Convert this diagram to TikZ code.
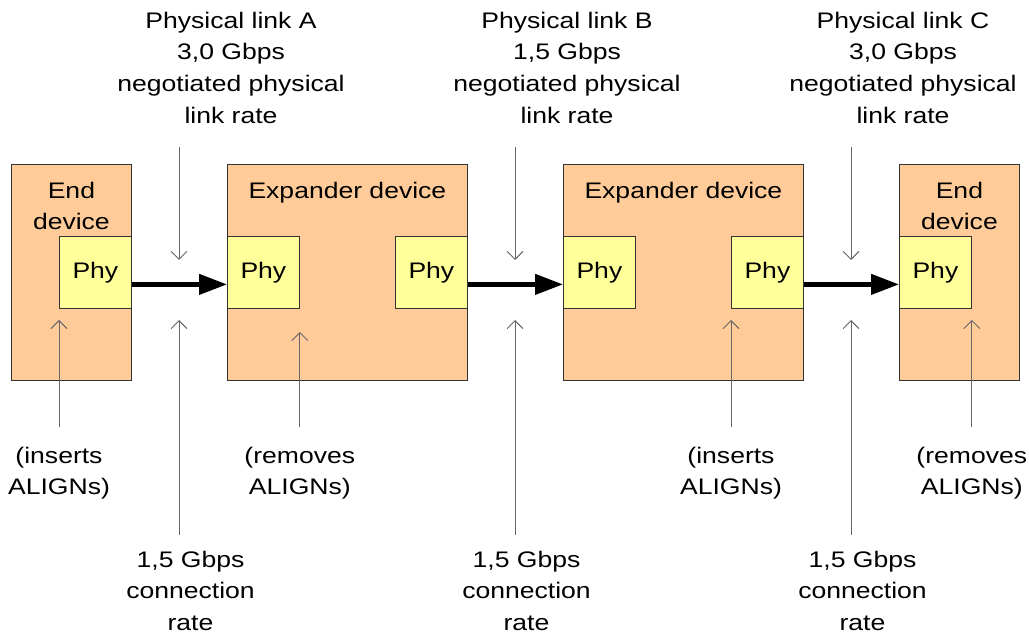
\documentclass[tikz,border=0pt]{standalone}
\usepackage{fontspec}
\setmainfont{Liberation Sans}[FakeStretch=1.18]
\usetikzlibrary{arrows.meta}
\definecolor{devicefill}{HTML}{FFCC99}
\definecolor{phyfill}{HTML}{FFFF99}
\definecolor{notegray}{HTML}{666666}

\begin{document}
\begin{tikzpicture}[x=1pt,y=-1pt,
    txt/.style={font=\fontsize{22.5}{31.7}\selectfont, align=center, inner sep=0pt, anchor=north},
    device/.style={draw=black!80, line width=0.8pt, fill=devicefill, anchor=north west,
        inner sep=0pt, minimum height=216pt},
    phy/.style={draw=black!80, line width=0.8pt, fill=phyfill, minimum width=72pt,
        minimum height=72pt, inner sep=0pt, font=\fontsize{22.5}{27}\selectfont},
    link/.style={line width=4.3pt, -{Triangle[length=28pt,width=20pt]}},
    note/.style={draw=notegray, line width=0.9pt, -{Straight Barb[length=8pt,width=16pt]}}]
    \useasboundingbox (0,0) rectangle (1029,636);

    % devices
    \node[device, minimum width=120pt] (endA) at (11,164) {};
    \node[device, minimum width=240pt] (expA) at (227,164) {};
    \node[device, minimum width=240pt] (expB) at (563,164) {};
    \node[device, minimum width=120pt] (endB) at (899,164) {};
    \node[txt] (endAname) at ([yshift=-17.6pt]endA.north) {End\\device};
    \node[txt] (expAname) at ([yshift=-17.6pt]expA.north) {Expander device};
    \node[txt] (expBname) at ([yshift=-17.6pt]expB.north) {Expander device};
    \node[txt] (endBname) at ([yshift=-17.6pt]endB.north) {End\\device};

    % phys
    \node[phy, anchor=east] (phyA) at (endA.east) {Phy};
    \node[phy, anchor=west] (phyB) at (expA.west) {Phy};
    \node[phy, anchor=east] (phyC) at (expA.east) {Phy};
    \node[phy, anchor=west] (phyD) at (expB.west) {Phy};
    \node[phy, anchor=east] (phyE) at (expB.east) {Phy};
    \node[phy, anchor=west] (phyF) at (endB.west) {Phy};

    % links
    \draw[link] ([yshift=-12pt]phyA.east) -- ([yshift=-12pt]phyB.west);
    \draw[link] ([yshift=-12pt]phyC.east) -- ([yshift=-12pt]phyD.west);
    \draw[link] ([yshift=-12pt]phyE.east) -- ([yshift=-12pt]phyF.west);

    % link rates
    \node[txt] (rateA) at (231,11.6) {Physical link A\\3,0 Gbps\\negotiated physical\\link rate};
    \node[txt] (rateB) at (567,11.6) {Physical link B\\1,5 Gbps\\negotiated physical\\link rate};
    \node[txt] (rateC) at (903,11.6) {Physical link C\\3,0 Gbps\\negotiated physical\\link rate};
    \coordinate (topA) at (179,147);
    \coordinate (topB) at (515,147);
    \coordinate (topC) at (851,147);
    \coordinate (downA) at (179,260);
    \coordinate (downB) at (515,260);
    \coordinate (downC) at (851,260);
    \draw[note] (topA) -- (downA);
    \draw[note] (topB) -- (downB);
    \draw[note] (topC) -- (downC);

    % connection rates
    \node[txt] (connA) at (190.5,550.6) {1,5 Gbps\\connection\\rate};
    \node[txt] (connB) at (526.5,550.6) {1,5 Gbps\\connection\\rate};
    \node[txt] (connC) at (862.5,550.6) {1,5 Gbps\\connection\\rate};
    \coordinate (botA) at (179,535);
    \coordinate (botB) at (515,535);
    \coordinate (botC) at (851,535);
    \coordinate (upA) at (179,320);
    \coordinate (upB) at (515,320);
    \coordinate (upC) at (851,320);
    \draw[note] (botA) -- (upA);
    \draw[note] (botB) -- (upB);
    \draw[note] (botC) -- (upC);

    % ALIGN notes
    \node[txt] (insA) at (phyA.west |- 0,446.6) {(inserts\\ALIGNs)};
    \node[txt] (remA) at (phyB.east |- 0,446.6) {(removes\\ALIGNs)};
    \node[txt] (insB) at (phyE.west |- 0,446.6) {(inserts\\ALIGNs)};
    \node[txt] (remB) at (phyF.east |- 0,446.6) {(removes\\ALIGNs)};
    \draw[note] ([yshift=19.6pt]insA.north) -- (phyA.west |- 0,320);
    \draw[note] ([yshift=19.6pt]remA.north) -- (phyB.east |- 0,332);
    \draw[note] ([yshift=19.6pt]insB.north) -- (phyE.west |- 0,320);
    \draw[note] ([yshift=19.6pt]remB.north) -- (phyF.east |- 0,320);
\end{tikzpicture}
\end{document}
